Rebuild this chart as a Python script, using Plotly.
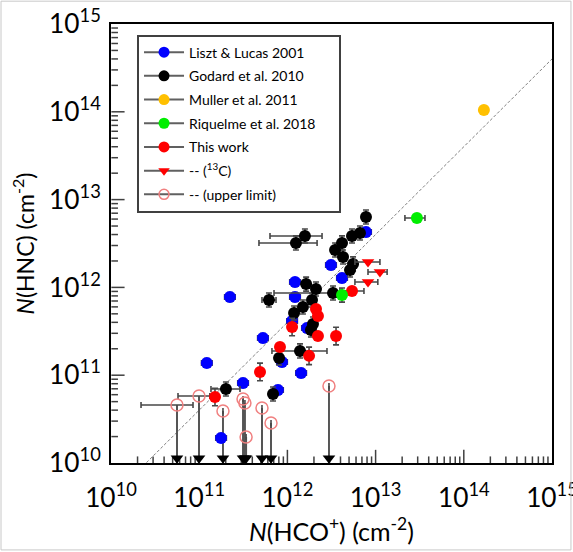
import numpy as np
import plotly.graph_objects as go

# ---------------- data (column densities, cm^-2) ----------------
liszt_x = [1.22e11, 2.23e11, 1.77e11, 3.14e11, 5.28e11, 8.69e11, 1.43e12, 7.82e11,
           1.22e12, 1.22e12, 1.13e12, 1.67e12, 3.12e12, 4.16e12, 7.78e12]
liszt_y = [1.38e11, 7.78e11, 1.93e10, 8.15e10, 2.65e11, 1.41e11, 1.06e11, 6.78e10,
           1.15e12, 7.78e11, 4.14e11, 3.45e11, 1.80e12, 1.28e12, 4.28e12]
liszt_xerr = [0.06] * 15
liszt_yerr = [0.05] * 15

godard_x = [1.58e12, 1.25e12, 7.78e12, 6.65e12, 5.40e12, 4.16e12, 3.47e12, 4.27e12,
            5.55e12, 5.13e12, 1.63e12, 2.11e12, 3.29e12, 6.18e11, 1.90e12, 1.50e12,
            1.19e12, 1.95e12, 1.85e12, 1.39e12, 8.04e11, 6.87e11, 2.01e11]
godard_y = [3.85e12, 3.21e12, 6.34e12, 4.17e12, 3.85e12, 3.21e12, 2.67e12, 2.22e12,
            1.85e12, 1.58e12, 1.09e12, 9.59e11, 8.63e11, 7.18e11, 7.18e11, 5.98e11,
            5.11e11, 3.83e11, 3.27e11, 1.89e11, 1.57e11, 6.11e10, 6.97e10]
godard_xlo = [6.35e11, 4.76e11, 7.40e12, 6.30e12, 5.10e12, 3.95e12, 3.30e12, 4.05e12,
              5.25e12, 4.85e12, 1.55e12, 2.00e12, 7.05e11, 5.15e11, 1.80e12, 1.42e12,
              1.13e12, 1.85e12, 1.76e12, 6.68e11, 7.60e11, 6.50e11, 1.36e11]
godard_xhi = [2.47e12, 2.17e12, 8.20e12, 7.00e12, 5.70e12, 4.40e12, 3.65e12, 4.50e12,
              5.85e12, 5.40e12, 1.72e12, 2.22e12, 4.50e12, 7.43e11, 2.00e12, 1.58e12,
              1.26e12, 2.05e12, 1.95e12, 2.81e12, 8.50e11, 7.25e11, 2.90e11]
godard_yerr = [0.08] * 23

muller_x = [1.69e14]
muller_y = [1.05e14]

riq_x = [4.16e12, 2.94e13]
riq_y = [8.18e11, 6.17e12]
riq_xlo = [3.95e12, 2.15e13]
riq_xhi = [4.40e12, 3.63e13]
riq_yerr = [0.08, 0.03]

this_x = [5.40e12, 2.11e12, 2.22e12, 1.13e12, 2.22e12, 3.56e12, 8.24e11, 1.76e12,
          4.89e11, 1.51e11]
this_y = [9.10e11, 5.68e11, 4.72e11, 3.54e11, 2.79e11, 2.79e11, 2.09e11, 1.66e11,
          1.09e11, 5.65e10]
this_xlo = [3.94e12, 2.00e12, 2.10e12, 1.07e12, 2.10e12, 3.40e12, 7.80e11, 1.67e12,
            4.65e11, 1.43e11]
this_xhi = [7.38e12, 2.22e12, 2.34e12, 1.19e12, 2.34e12, 3.75e12, 8.70e11, 1.85e12,
            5.15e11, 1.59e11]
this_yerr = [0.04, 0.04, 0.04, 0.10, 0.04, 0.10, 0.05, 0.10, 0.10, 0.10]

c13_x = [8.20e12, 1.12e13, 8.20e12]
c13_y = [1.95e12, 1.50e12, 1.15e12]
c13_xlo = [5.83e12, 8.20e12, 5.83e12]
c13_xhi = [1.12e13, 1.35e13, 1.06e13]

ul_x = [5.60e10, 9.95e10, 1.86e11, 3.14e11, 3.30e11, 3.40e11, 5.15e11, 6.52e11, 2.96e12]
ul_y = [4.58e10, 5.79e10, 3.91e10, 5.36e10, 4.82e10, 1.98e10, 4.23e10, 2.86e10, 7.53e10]
ul_xlo = [2.19e10, 5.75e10, 1.86e11, 3.14e11, 3.30e11, 3.40e11, 5.15e11, 6.52e11, 2.96e12]
ul_xhi = [8.51e10, 1.32e11, 1.86e11, 3.14e11, 3.30e11, 3.40e11, 5.15e11, 6.52e11, 2.96e12]

ratio_line = 0.4          # N(HNC) = 0.4 N(HCO+)
x_range = [1e10, 1e15]
y_range = [1e10, 1e15]

FONT = "Lato, 'Open Sans', sans-serif"
ERRC = "#484848"
TICKC = "#404040"


def asym(vals, lo, hi):
    v = np.array(vals)
    return dict(type="data", symmetric=False, array=list(np.array(hi) - v),
                arrayminus=list(v - np.array(lo)), color=ERRC, thickness=1.6, width=3)


def dex_err(vals, dex):
    v = np.array(vals)
    d = np.array(dex)
    return dict(type="data", symmetric=False, array=list(v * (10 ** d - 1)),
                arrayminus=list(v * (1 - 10 ** (-d))), color=ERRC, thickness=1.6, width=3)


fig = go.Figure()

# ---- inside tick marks (decades long, 2..9 short) as short segments ----
lo_dec, hi_dec = int(np.log10(x_range[0])), int(np.log10(x_range[1]))
major_vals = [10.0 ** k for k in range(lo_dec + 1, hi_dec)]
minor_vals = [d * 10.0 ** k for k in range(lo_dec, hi_dec) for d in range(2, 10)]
EPS = 10 ** 0.004
for vals, ldex in ((major_vals, 0.15), (minor_vals, 0.075)):
    tx, ty, sx, sy = [], [], [], []
    for v in vals:
        tx += [v, v, None]
        ty += [y_range[0], y_range[0] * 10 ** ldex, None]
        sx += [x_range[0] * EPS, x_range[0] * EPS * 10 ** ldex, None]
        sy += [v, v, None]
    fig.add_trace(go.Scatter(x=tx, y=ty, mode="lines",
                             line=dict(width=1.5, color=TICKC),
                             showlegend=False, hoverinfo="skip"))
    fig.add_trace(go.Scatter(x=sx, y=sy, mode="lines",
                             line=dict(width=1.5, color=TICKC),
                             showlegend=False, hoverinfo="skip"))

# dashed ratio line
lx = np.array(x_range)
fig.add_trace(go.Scatter(x=lx, y=lx * ratio_line, mode="lines",
                         line=dict(color="#808080", width=1, dash="3px,2px"),
                         showlegend=False, hoverinfo="skip"))

# upper-limit arrows
ax, ay = [], []
for xv, yv in zip(ul_x, ul_y):
    ax += [xv, xv, None]
    ay += [yv, y_range[0], None]
fig.add_trace(go.Scatter(x=ax, y=ay, mode="lines",
                         line=dict(color="#555555", width=2),
                         showlegend=False, hoverinfo="skip"))
arrow_y = y_range[0] * 10 ** 0.055
fig.add_trace(go.Scatter(x=ul_x, y=[arrow_y] * len(ul_x), mode="markers",
                         marker=dict(symbol="triangle-down", size=11, color="black"),
                         cliponaxis=False, showlegend=False, hoverinfo="skip"))

# upper limit open circles
fig.add_trace(go.Scatter(x=ul_x, y=ul_y, mode="markers",
                         marker=dict(symbol="circle-open", size=12, color="#f08080",
                                     line=dict(width=1.5, color="#f08080")),
                         error_x=asym(ul_x, ul_xlo, ul_xhi),
                         showlegend=False))

# Liszt & Lucas
fig.add_trace(go.Scatter(x=liszt_x, y=liszt_y, mode="markers",
                         marker=dict(size=12, color="#0000ff"),
                         error_x=dex_err(liszt_x, liszt_xerr),
                         error_y=dex_err(liszt_y, liszt_yerr),
                         showlegend=False))
# Godard
fig.add_trace(go.Scatter(x=godard_x, y=godard_y, mode="markers",
                         marker=dict(size=12, color="black"),
                         error_x=asym(godard_x, godard_xlo, godard_xhi),
                         error_y=dex_err(godard_y, godard_yerr),
                         showlegend=False))
# This work
fig.add_trace(go.Scatter(x=this_x, y=this_y, mode="markers",
                         marker=dict(size=12, color="#ff0000"),
                         error_x=asym(this_x, this_xlo, this_xhi),
                         error_y=dex_err(this_y, this_yerr),
                         showlegend=False))
# 13C
fig.add_trace(go.Scatter(x=c13_x, y=c13_y, mode="markers",
                         marker=dict(size=11, color="#ff0000", symbol="triangle-down"),
                         error_x=asym(c13_x, c13_xlo, c13_xhi),
                         showlegend=False))
# Riquelme
fig.add_trace(go.Scatter(x=riq_x, y=riq_y, mode="markers",
                         marker=dict(size=12, color="#00ee00"),
                         error_x=asym(riq_x, riq_xlo, riq_xhi),
                         error_y=dex_err(riq_y, riq_yerr),
                         showlegend=False))
# Muller
fig.add_trace(go.Scatter(x=muller_x, y=muller_y, mode="markers",
                         marker=dict(size=12, color="#ffc000"),
                         showlegend=False))

# legend entries
PAD = "&nbsp;" * 5
legend_items = [
    ("Liszt &amp; Lucas 2001", dict(size=11, color="#0000ff")),
    ("Godard et al. 2010", dict(size=11, color="black")),
    ("Muller et al. 2011", dict(size=11, color="#ffc000")),
    ("Riquelme et al. 2018" + PAD, dict(size=11, color="#00ee00")),
    ("This work", dict(size=11, color="#ff0000")),
    ("-- (<sup>13</sup>C)", dict(size=10, color="#ff0000", symbol="triangle-down")),
    ("-- (upper limit)", dict(size=10, color="#f08080", symbol="circle-open",
                              line=dict(width=1.5, color="#f08080"))),
]
for i, (name, mk) in enumerate(legend_items):
    fig.add_trace(go.Scatter(x=[None], y=[None], mode="lines+markers", name=name,
                             marker=mk, line=dict(color="#606060", width=2),
                             legendgroup=f"g{i}"))

axis_common = dict(type="log", dtick=1,
                   exponentformat="power", showgrid=False,
                   zeroline=False, ticks="",
                   showline=True, linecolor="black", linewidth=2,
                   mirror=True, ticklabeloverflow="allow", automargin=False,
                   tickfont=dict(size=21, color="black", family=FONT))

fig.update_layout(
    width=573, height=552,
    margin=dict(l=111, r=21, t=24, b=89),
    paper_bgcolor="white", plot_bgcolor="white",
    font=dict(family=FONT, color="black"),
    xaxis=dict(range=[np.log10(x_range[0]), np.log10(x_range[1])],
               title=dict(text="<i>N</i>(HCO<sup>+</sup>) (cm<sup>-2</sup>)",
                          font=dict(size=25), standoff=4),
               ticklabelstandoff=12,
               **axis_common),
    yaxis=dict(range=[np.log10(y_range[0]), np.log10(y_range[1])],
               title=dict(text="<i>N</i>(HNC) (cm<sup>-2</sup>)",
                          font=dict(size=23), standoff=8),
               ticklabelstandoff=4,
               **axis_common),
    legend=dict(x=0.059, y=0.976, xanchor="left", yanchor="top",
                bordercolor="#404040", borderwidth=2, bgcolor="white",
                font=dict(size=14, family=FONT, color="black"),
                tracegroupgap=2.5, itemwidth=40),
    shapes=[dict(type="rect", xref="paper", yref="paper",
                 x0=-0.2494, x1=1.043, y0=-0.198, y1=1.052,
                 line=dict(color="#c8c8c8", width=1))],
    showlegend=True,
)

fig.write_html("out.html")
